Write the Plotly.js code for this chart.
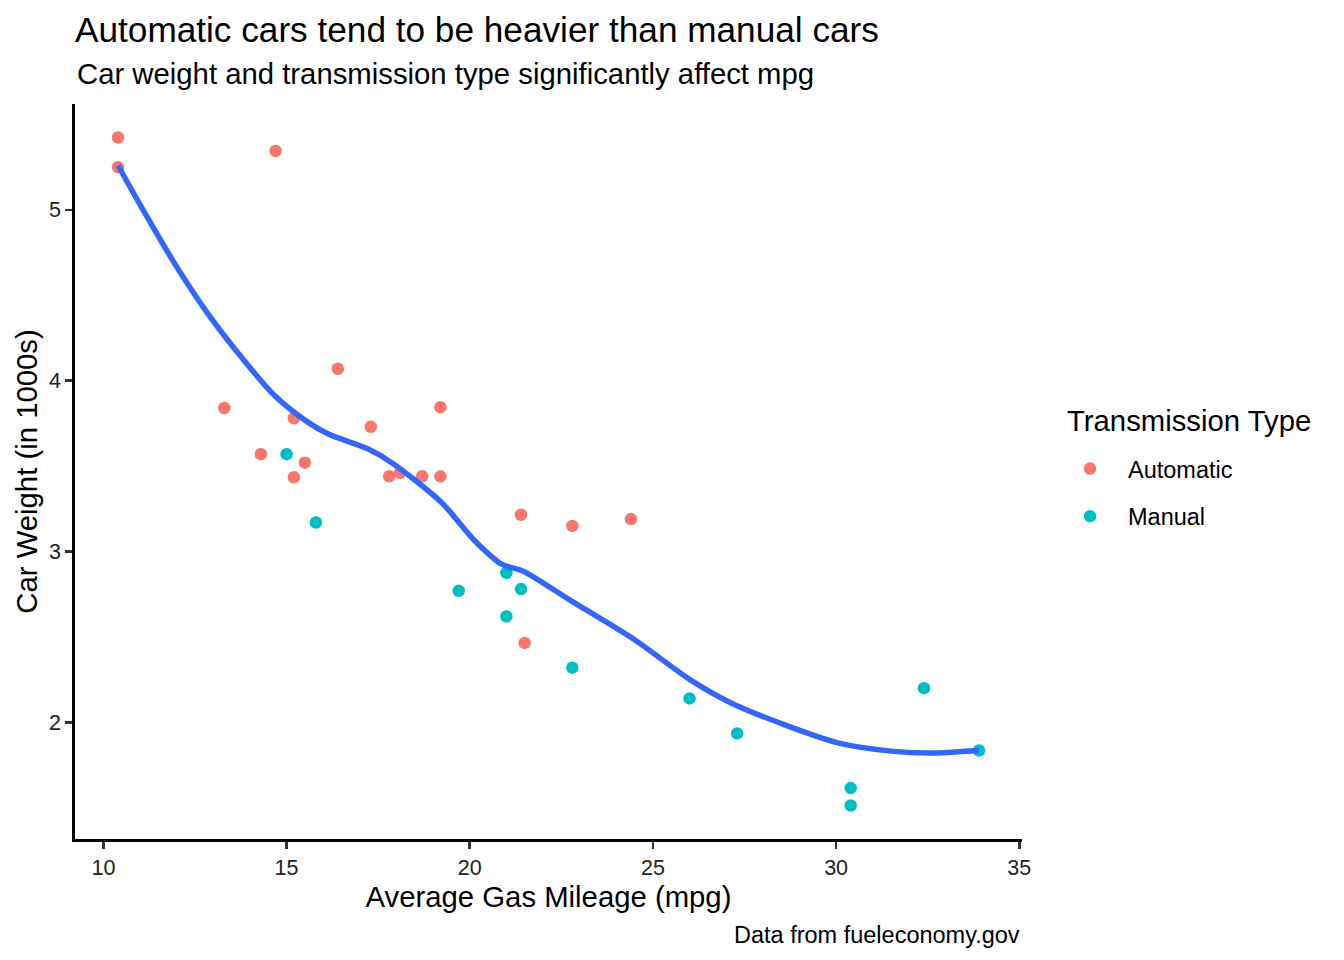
<!DOCTYPE html>
<html>
<head>
<meta charset="utf-8">
<script src="https://cdn.plot.ly/plotly-3.0.1.min.js"></script>
<style>
  html, body { margin: 0; padding: 0; background: #fff; }
  #chart { width: 1344px; height: 960px; }
</style>
</head>
<body>
<div id="chart"></div>
<script>
// mtcars: mpg vs weight, split by transmission
var autoMpg = [21.4, 18.7, 18.1, 14.3, 24.4, 22.8, 19.2, 17.8, 16.4, 17.3, 15.2, 10.4, 10.4, 14.7, 21.5, 15.5, 15.2, 13.3, 19.2];
var autoWt  = [3.215, 3.440, 3.460, 3.570, 3.190, 3.150, 3.440, 3.440, 4.070, 3.730, 3.780, 5.250, 5.424, 5.345, 2.465, 3.520, 3.435, 3.840, 3.845];

var manualMpg = [21.0, 21.0, 22.8, 32.4, 30.4, 33.9, 27.3, 26.0, 30.4, 15.8, 19.7, 15.0, 21.4];
var manualWt  = [2.620, 2.875, 2.320, 2.200, 1.615, 1.835, 1.935, 2.140, 1.513, 3.170, 2.770, 3.570, 2.780];

// smooth curve
var smoothMpg = [10.4, 11.04, 11.95, 12.86, 13.77, 14.68, 15.59, 16.14, 17.23, 17.87, 19.23, 20.15, 20.87, 21.46, 22.78, 24.49, 26.01, 27.12, 28.54, 30.05, 31.57, 32.58, 33.9];
var smoothWt  = [5.26, 5.016, 4.684, 4.39, 4.137, 3.912, 3.756, 3.688, 3.60, 3.52, 3.287, 3.06, 2.926, 2.885, 2.71, 2.485, 2.25, 2.115, 1.99, 1.88, 1.83, 1.82, 1.835];

var xTicks = [10, 15, 20, 25, 30, 35];
var yTicks = [2, 3, 4, 5];

var FONT = 'Liberation Sans, Arial, Helvetica, sans-serif';

var traces = [
    {
        x: autoMpg, y: autoWt,
        name: 'Automatic',
        type: 'scatter', mode: 'markers',
        legendgroup: 'a',
        marker: { color: '#F8766D', size: 12.5 }
    },
    {
        x: manualMpg, y: manualWt,
        name: 'Manual',
        type: 'scatter', mode: 'markers',
        legendgroup: 'b',
        marker: { color: '#00BFC4', size: 12.5 }
    },
    {
        x: smoothMpg, y: smoothWt,
        type: 'scatter', mode: 'lines',
        showlegend: false,
        line: { color: '#3366FF', width: 5.5, shape: 'spline', smoothing: 0.8 }
    }
];

var layout = {
    width: 1344,
    height: 960,
    paper_bgcolor: '#fff',
    plot_bgcolor: '#fff',
    font: { family: FONT, color: '#000' },
    margin: { l: 75, r: 322, t: 104, b: 121 },
    title: {
        text: 'Automatic cars tend to be heavier than manual cars',
        font: { size: 35.2, color: '#000' },
        xref: 'paper', x: 0, xanchor: 'left',
        yref: 'container', y: 1 - 17 / 960, yanchor: 'top'
    },
    xaxis: {
        range: [9.225, 35.075],
        tickvals: xTicks,
        showgrid: false, zeroline: false,
        showline: true, linecolor: '#000', linewidth: 2.8,
        ticks: 'outside', ticklen: 7, tickwidth: 2.8, tickcolor: '#333',
        tickfont: { size: 21.5, color: '#222' },
        title: { text: 'Average Gas Mileage (mpg)', font: { size: 29.3, color: '#000' }, standoff: 1 }
    },
    yaxis: {
        range: [1.317, 5.62],
        tickvals: yTicks,
        showgrid: false, zeroline: false,
        showline: true, linecolor: '#000', linewidth: 2.8,
        ticks: 'outside', ticklen: 7, tickwidth: 2.8, tickcolor: '#333',
        tickfont: { size: 21.5, color: '#222' },
        title: { text: 'Car Weight (in 1000s)', font: { size: 29.3, color: '#000' }, standoff: 3 }
    },
    legend: {
        x: 1.0317, xanchor: 'left',
        y: 0.471, yanchor: 'middle',
        font: { size: 23.5, color: '#000' },
        traceorder: 'grouped',
        tracegroupgap: 14,
        itemwidth: 66
    },
    annotations: [
        {
            text: 'Car weight and transmission type significantly affect mpg',
            xref: 'paper', x: 0, xanchor: 'left',
            yref: 'paper', y: 1, yshift: 49, yanchor: 'top',
            showarrow: false,
            font: { size: 29.3, color: '#000' }
        },
        {
            text: 'Data from fueleconomy.gov',
            xref: 'paper', x: 1, xanchor: 'right',
            yref: 'paper', y: 0, yshift: -81, yanchor: 'top',
            showarrow: false,
            font: { size: 23.5, color: '#000' }
        },
        {
            text: 'Transmission Type',
            xref: 'paper', x: 1.0455, xanchor: 'left',
            yref: 'paper', y: 0.570, yanchor: 'middle',
            showarrow: false,
            font: { size: 29.3, color: '#000' }
        }
    ]
};

Plotly.newPlot('chart', traces, layout, { staticPlot: true });
</script>
</body>
</html>
